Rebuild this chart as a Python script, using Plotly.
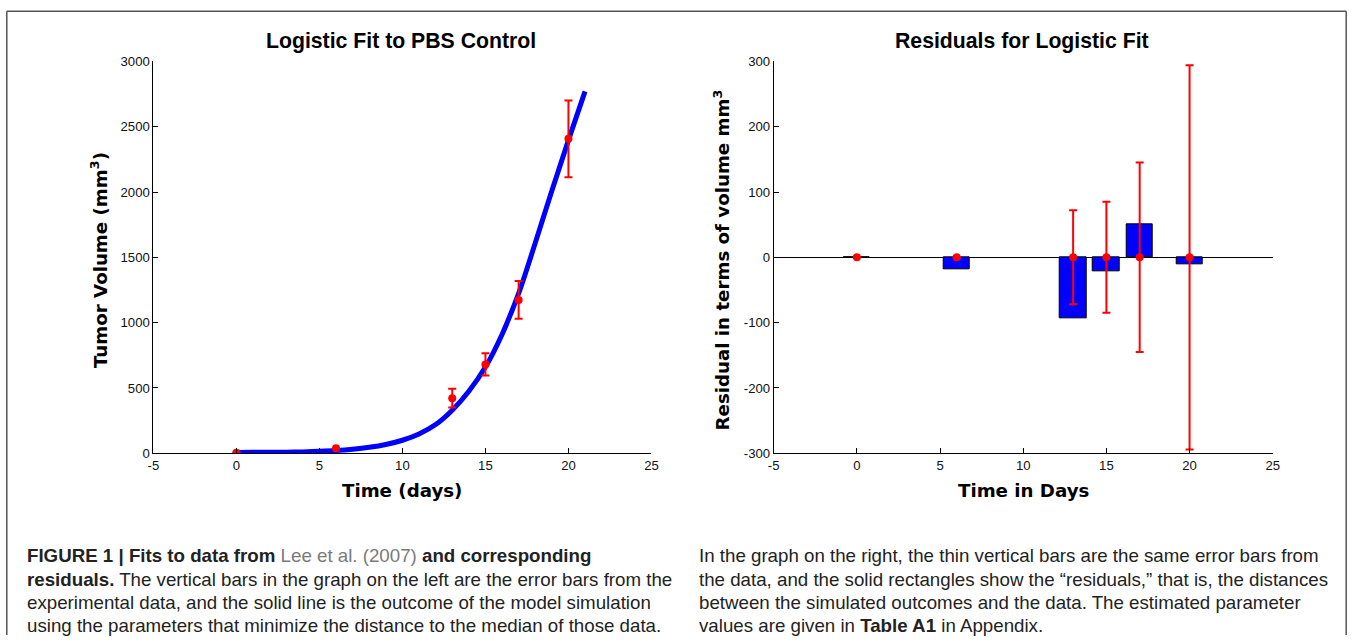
import plotly.graph_objects as go

# ---- data ----
days = [0, 6, 13, 15, 17, 20]
volume = [5, 38, 422, 680, 1174, 2407]
vol_err = [0, 0, 72, 85, 145, 294]

fit_t = [0, 1, 2, 3, 4, 5, 6, 7, 8, 9, 10, 11, 12, 13, 14, 15, 16, 17, 18, 19, 20, 21]
fit_v = [7, 7.5, 8, 9, 11, 15, 21, 31, 46, 68, 100, 148, 220, 330, 475, 660, 910, 1224, 1610, 2010, 2397, 2770]

residual = [0, -19, -93, -21, 50, -11]
res_zero = [0, 0, 0, 0, 0, 0]

x_ticks = [-5, 0, 5, 10, 15, 20, 25]
x_ticktext = ["-5", "0", "5", "10", "15", "20", "25"]
y1_ticks = [0, 500, 1000, 1500, 2000, 2500, 3000]
y1_ticktext = ["0", "500", "1000", "1500", "2000", "2500", "3000"]
y2_ticks = [-300, -200, -100, 0, 100, 200, 300]
y2_ticktext = ["-300", "-200", "-100", "0", "100", "200", "300"]

# The page is shown with an 8px body margin and the capture is scaled a little;
# reference pixel positions are mapped back to figure pixels here.
OFF = 8
SX, SY = 1354 / 1370, 643 / 660
W, H = 1354, 643
def px(x):
    return (x / SX - OFF) / W
def py(y):
    return 1 - (y / SY - OFF) / H

K = 1 / SX  # font compensation
BLUE = "#0000FF"
RED = "#FF0000"
TICKFONT = dict(family="Liberation Sans, Arial, sans-serif", size=13 * K, color="#111")
AXTITLE = dict(family="DejaVu Sans, sans-serif", size=18 * K, color="#000")
TITLEFONT = dict(family="Liberation Sans, Arial, sans-serif", size=21 * K, color="#000")
CAPFONT = dict(family="Liberation Sans, Arial, sans-serif", size=18.5 * K, color="#222")

fig = go.Figure()

# left: fitted curve
fig.add_trace(go.Scatter(x=fit_t, y=fit_v, mode="lines",
                         line=dict(color=BLUE, width=5, shape="spline", smoothing=1.0),
                         xaxis="x", yaxis="y", showlegend=False))
# left: data with error bars
fig.add_trace(go.Scatter(x=days, y=volume, mode="markers",
                         marker=dict(color=RED, size=8, symbol="circle"),
                         error_y=dict(type="data", array=vol_err, color=RED, thickness=2, width=4),
                         xaxis="x", yaxis="y", showlegend=False))

# right: residual bars
fig.add_trace(go.Bar(x=days, y=residual, width=1.6,
                     marker=dict(color=BLUE, line=dict(color="#000", width=1)),
                     xaxis="x2", yaxis="y2", showlegend=False))
# right: error bars centred at zero
fig.add_trace(go.Scatter(x=days, y=res_zero, mode="markers",
                         marker=dict(color=RED, size=8, symbol="circle"),
                         error_y=dict(type="data", array=vol_err, color=RED, thickness=2, width=4),
                         xaxis="x2", yaxis="y2", showlegend=False))

axis_common = dict(showline=True, linecolor="#000", linewidth=1, ticks="inside",
                   ticklen=5, tickcolor="#000", showgrid=False,
                   tickfont=TICKFONT, mirror=False)

fig.update_layout(
    width=W, height=H,
    margin=dict(l=0, r=0, t=0, b=0),
    paper_bgcolor="white", plot_bgcolor="white",
    xaxis=dict(domain=[px(155), px(652)], range=[-5, 25], tickvals=x_ticks, ticktext=x_ticktext,
               anchor="y", zeroline=False, **axis_common),
    yaxis=dict(domain=[py(453), py(62)], range=[0, 3000], tickvals=y1_ticks, ticktext=y1_ticktext,
               anchor="x", zeroline=False, **axis_common),
    xaxis2=dict(domain=[px(774), px(1272)], range=[-5, 25], tickvals=x_ticks, ticktext=x_ticktext,
                anchor="y2", zeroline=False, **axis_common),
    yaxis2=dict(domain=[py(453), py(62)], range=[-300, 300], tickvals=y2_ticks, ticktext=y2_ticktext,
                anchor="x2", zeroline=True, zerolinecolor="#000", zerolinewidth=1,
                **axis_common),
    bargap=0,
)

ann = []
# titles
ann.append(dict(text="<b>Logistic Fit to PBS Control</b>", x=px(402), y=py(42), font=TITLEFONT))
ann.append(dict(text="<b>Residuals for Logistic Fit</b>", x=px(1022), y=py(42), font=TITLEFONT))
# axis titles
ann.append(dict(text="<b>Time (days)</b>", x=px(403), y=py(490), font=AXTITLE))
ann.append(dict(text="<b>Time in Days</b>", x=px(1023), y=py(490), font=AXTITLE))
ann.append(dict(text="<b>Tumor Volume (mm<sup>3</sup>)</b>", x=px(101), y=py(260),
                textangle=-90, font=AXTITLE))
ann.append(dict(text="<b>Residual in terms of volume mm<sup>3</sup></b>", x=px(722), y=py(260),
                textangle=-90, font=AXTITLE))

# caption
left_lines = [
    "<b>FIGURE 1 | Fits to data from </b><span style='color:#7a7a7a'>Lee et al. (2007)</span><b> and corresponding</b>",
    "<b>residuals.</b> The vertical bars in the graph on the left are the error bars from the",
    "experimental data, and the solid line is the outcome of the model simulation",
    "using the parameters that minimize the distance to the median of those data.",
]
right_lines = [
    "In the graph on the right, the thin vertical bars are the same error bars from",
    "the data, and the solid rectangles show the \u201cresiduals,\u201d that is, the distances",
    "between the simulated outcomes and the data. The estimated parameter",
    "values are given in <b>Table A1</b> in Appendix.",
]
line_y = [555, 579, 602, 625]
for t, yy in zip(left_lines, line_y):
    ann.append(dict(text=t, x=px(27), y=py(yy), xanchor="left", font=CAPFONT))
for t, yy in zip(right_lines, line_y):
    ann.append(dict(text=t, x=px(697), y=py(yy), xanchor="left", font=CAPFONT))

for a in ann:
    a.setdefault("xanchor", "center")
    a["yanchor"] = "middle"
    a["xref"] = "paper"
    a["yref"] = "paper"
    a["showarrow"] = False
fig.update_layout(annotations=ann)

# figure frame (top, left, right)
frame = dict(type="line", xref="paper", yref="paper", line=dict(color="#555", width=1.5))
x_left = max(px(8), 0.0006)
x_right = 0.9994
fig.add_shape(x0=x_left, x1=x_right, y0=py(12), y1=py(12), **frame)
fig.add_shape(x0=x_left, x1=x_left, y0=py(12), y1=0, **frame)
fig.add_shape(x0=x_right, x1=x_right, y0=py(12), y1=0, **frame)

fig.write_html("out.html")
